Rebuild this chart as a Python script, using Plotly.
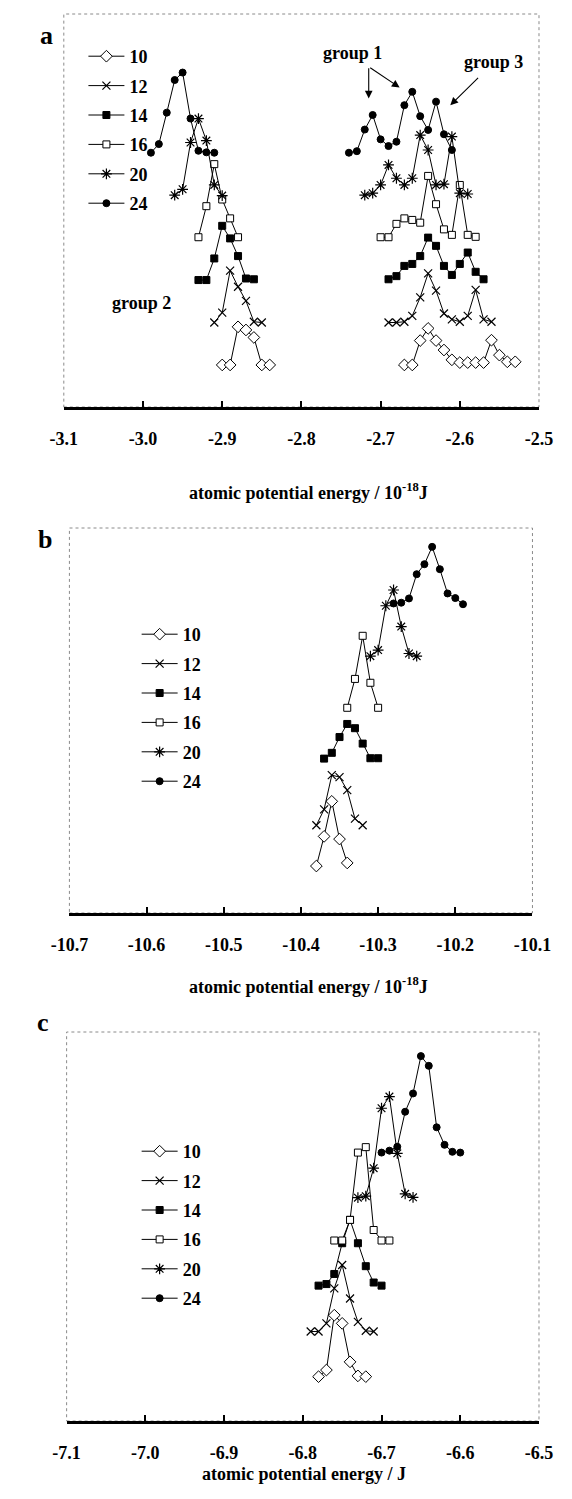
import plotly.graph_objects as go

W, H = 572, 1499
FONT = "Liberation Serif"

series_names = ["10", "12", "14", "16", "20", "24"]

# ---------------- panel a (x in 10^-18 J, y = offset counts, arbitrary) ----------------
a10_x = [-2.90, -2.89, -2.88, -2.87, -2.86, -2.85, -2.84, None,
         -2.67, -2.66, -2.65, -2.64, -2.63, -2.62, -2.61, -2.60, -2.59, -2.58, -2.57, -2.56, -2.55, -2.54, -2.53]
a10_y = [10.7, 10.7, 20.4, 19.6, 17.7, 10.7, 10.7, None,
         10.7, 10.7, 16.9, 20.0, 16.9, 14.5, 12.0, 11.3, 11.3, 11.3, 11.3, 17.0, 13.2, 11.5, 11.5]

a12_x = [-2.91, -2.90, -2.89, -2.88, -2.87, -2.86, -2.85, None,
         -2.69, -2.68, -2.67, -2.66, -2.65, -2.64, -2.63, -2.62, -2.61, -2.60, -2.59, -2.58, -2.57, -2.56]
a12_y = [21.5, 24.0, 34.7, 30.6, 27.0, 21.7, 21.5, None,
         21.5, 21.5, 21.7, 23.2, 27.9, 34.0, 29.6, 23.8, 22.3, 21.7, 23.2, 29.8, 22.3, 21.7]

a14_x = [-2.93, -2.92, -2.91, -2.90, -2.89, -2.88, -2.87, -2.86, None,
         -2.69, -2.68, -2.67, -2.66, -2.65, -2.64, -2.63, -2.62, -2.61, -2.60, -2.59, -2.58, -2.57]
a14_y = [32.3, 32.3, 37.8, 46.1, 42.9, 38.4, 32.7, 32.5, None,
         32.5, 33.3, 35.9, 36.4, 38.4, 43.1, 41.0, 35.9, 33.6, 36.4, 39.3, 34.4, 32.5]

a16_x = [-2.93, -2.92, -2.91, -2.90, -2.89, -2.88, None,
         -2.70, -2.69, -2.68, -2.67, -2.66, -2.65, -2.64, -2.63, -2.62, -2.61, -2.60, -2.59, -2.58]
a16_y = [43.2, 51.1, 61.8, 52.8, 48.0, 43.2, None,
         43.2, 43.2, 46.6, 48.0, 47.6, 46.9, 58.8, 51.6, 45.2, 43.8, 56.5, 43.8, 43.3]

a20_x = [-2.96, -2.95, -2.94, -2.93, -2.92, -2.91, -2.90, None,
         -2.72, -2.71, -2.70, -2.69, -2.68, -2.67, -2.66, -2.65, -2.64, -2.63, -2.62, -2.61, -2.60, -2.59]
a20_y = [53.9, 55.4, 67.3, 73.4, 67.8, 56.5, 53.8, None,
         53.9, 54.4, 56.5, 61.6, 58.2, 56.5, 58.2, 69.2, 65.4, 56.5, 56.7, 68.8, 54.4, 54.2]

a24_x = [-2.99, -2.98, -2.97, -2.96, -2.95, -2.94, -2.93, -2.92, -2.91, None,
         -2.74, -2.73, -2.72, -2.71, -2.70, -2.69, -2.68, -2.67, -2.66, -2.65, -2.64, -2.63, -2.62, -2.61]
a24_y = [64.7, 66.9, 74.9, 83.2, 85.1, 73.4, 65.2, 64.8, 64.7, None,
         64.7, 65.1, 70.6, 74.3, 68.1, 66.4, 67.5, 76.8, 80.2, 74.0, 70.5, 77.7, 69.4, 65.4]

# ---------------- panel b ----------------
b10_x = [-10.38, -10.37, -10.36, -10.35, -10.34]
b10_y = [12.2, 19.9, 29.0, 19.2, 13.0]
b12_x = [-10.38, -10.37, -10.36, -10.35, -10.34, -10.33, -10.32]
b12_y = [22.8, 26.9, 35.8, 35.3, 31.9, 24.5, 22.8]
b14_x = [-10.37, -10.36, -10.35, -10.34, -10.33, -10.32, -10.31, -10.30]
b14_y = [40.1, 41.6, 45.7, 49.1, 48.0, 44.0, 40.2, 40.2]
b16_x = [-10.34, -10.33, -10.32, -10.31, -10.30]
b16_y = [53.3, 60.8, 72.0, 59.8, 53.3]
b20_x = [-10.31, -10.30, -10.29, -10.28, -10.27, -10.26, -10.25]
b20_y = [66.7, 68.3, 79.8, 83.9, 74.4, 67.4, 66.7]
b24_x = [-10.28, -10.27, -10.26, -10.25, -10.24, -10.23, -10.22, -10.21, -10.20, -10.19]
b24_y = [80.4, 80.6, 81.7, 88.0, 90.6, 95.1, 89.3, 83.0, 81.8, 80.2]

# ---------------- panel c ----------------
c10_x = [-6.78, -6.77, -6.76, -6.75, -6.74, -6.73, -6.72]
c10_y = [11.4, 13.1, 27.2, 25.1, 15.2, 11.6, 11.4]
c12_x = [-6.79, -6.78, -6.77, -6.76, -6.75, -6.74, -6.73, -6.72, -6.71]
c12_y = [23.0, 23.0, 25.1, 34.1, 40.1, 31.5, 25.5, 23.2, 23.0]
c14_x = [-6.78, -6.77, -6.76, -6.75, -6.74, -6.73, -6.72, -6.71, -6.70]
c14_y = [34.8, 35.2, 37.8, 45.7, 51.7, 45.7, 39.8, 35.6, 34.8]
c16_x = [-6.76, -6.75, -6.74, -6.73, -6.72, -6.71, -6.70, -6.69]
c16_y = [46.4, 46.4, 51.7, 69.0, 70.4, 49.1, 46.4, 46.4]
c20_x = [-6.73, -6.72, -6.71, -6.70, -6.69, -6.68, -6.67, -6.66]
c20_y = [57.4, 57.8, 65.0, 80.4, 83.4, 68.8, 58.4, 57.5]
c24_x = [-6.70, -6.69, -6.68, -6.67, -6.66, -6.65, -6.64, -6.63, -6.62, -6.61, -6.60]
c24_y = [69.0, 69.5, 70.5, 79.5, 84.2, 93.8, 91.3, 75.5, 71.0, 69.2, 69.0]

# tick labels
a_ticks = [-3.1, -3.0, -2.9, -2.8, -2.7, -2.6, -2.5]
a_ticktext = ["-3.1", "-3.0", "-2.9", "-2.8", "-2.7", "-2.6", "-2.5"]
b_ticks = [-10.7, -10.6, -10.5, -10.4, -10.3, -10.2, -10.1]
b_ticktext = ["-10.7", "-10.6", "-10.5", "-10.4", "-10.3", "-10.2", "-10.1"]
c_ticks = [-7.1, -7.0, -6.9, -6.8, -6.7, -6.6, -6.5]
c_ticktext = ["-7.1", "-7.0", "-6.9", "-6.8", "-6.7", "-6.6", "-6.5"]

# ---------------- styling ----------------
marker_style = {
    "10": dict(symbol="diamond", color="white", size=9, line=dict(color="black", width=1)),
    "12": dict(symbol="x-thin", color="black", size=8, line=dict(color="black", width=1.2)),
    "14": dict(symbol="square", color="black", size=7, line=dict(color="black", width=1)),
    "16": dict(symbol="square", color="white", size=7, line=dict(color="black", width=1)),
    "20": dict(symbol="asterisk", color="black", size=9, line=dict(color="black", width=1.2)),
    "24": dict(symbol="circle", color="black", size=7, line=dict(color="black", width=1)),
}


def px_x(p):
    return p / W


def px_y(p):
    return 1 - p / H


panels = [
    dict(key="a", xa="x", ya="y", legend="legend",
         data={"10": (a10_x, a10_y), "12": (a12_x, a12_y), "14": (a14_x, a14_y),
               "16": (a16_x, a16_y), "20": (a20_x, a20_y), "24": (a24_x, a24_y)},
         xdom=(48, 557), ytop=14, ybot=407, rng=(-3.1, -2.5), tv=a_ticks, tt=a_ticktext),
    dict(key="b", xa="x2", ya="y2", legend="legend2",
         data={"10": (b10_x, b10_y), "12": (b12_x, b12_y), "14": (b14_x, b14_y),
               "16": (b16_x, b16_y), "20": (b20_x, b20_y), "24": (b24_x, b24_y)},
         xdom=(54, 550), ytop=528, ybot=913, rng=(-10.7, -10.1), tv=b_ticks, tt=b_ticktext),
    dict(key="c", xa="x3", ya="y3", legend="legend3",
         data={"10": (c10_x, c10_y), "12": (c12_x, c12_y), "14": (c14_x, c14_y),
               "16": (c16_x, c16_y), "20": (c20_x, c20_y), "24": (c24_x, c24_y)},
         xdom=(51, 557), ytop=1032, ybot=1421, rng=(-7.1, -6.5), tv=c_ticks, tt=c_ticktext),
]

fig = go.Figure()
layout_axes = {}
shapes = []

for i, p in enumerate(panels):
    for name in series_names:
        xs, ys = p["data"][name]
        fig.add_trace(go.Scatter(
            x=xs, y=ys, mode="lines+markers", name=name,
            xaxis=p["xa"], yaxis=p["ya"], legend=p["legend"],
            legendgroup=p["key"] + name, connectgaps=False,
            line=dict(color="black", width=1),
            marker=marker_style[name],
            showlegend=True,
        ))
    xkey = "xaxis" if i == 0 else f"xaxis{i+1}"
    ykey = "yaxis" if i == 0 else f"yaxis{i+1}"
    layout_axes[xkey] = dict(
        domain=[px_x(p["xdom"][0]), px_x(p["xdom"][1])],
        anchor=p["ya"], range=list(p["rng"]),
        tickmode="array", tickvals=p["tv"], ticktext=p["tt"],
        ticks="inside", ticklen=6, tickwidth=2, tickcolor="black",
        showline=True, linecolor="black", linewidth=2.5,
        showgrid=False, zeroline=False, fixedrange=True,
        tickfont=dict(family=FONT, size=18, color="black", weight="bold"),
        ticklabelstandoff=14,
    )
    layout_axes[ykey] = dict(
        domain=[px_y(p["ybot"]), px_y(p["ytop"])],
        anchor=p["xa"], range=[0, 100], visible=False, fixedrange=True,
    )
    shapes.append(dict(type="rect", xref=f"{p['xa']} domain", yref=f"{p['ya']} domain",
                       x0=0, x1=1, y0=0, y1=1, layer="below",
                       line=dict(color="#8a8a8a", width=1, dash="dot")))

tfont = dict(family=FONT, size=18, color="black", weight="bold")
arrow = dict(xref="x", yref="y", axref="x", ayref="y", showarrow=True, text="",
             arrowhead=2, arrowsize=1.4, arrowwidth=1.1, arrowcolor="black")
annotations = [
    dict(text="a", xref="paper", yref="paper", x=px_x(20), y=px_y(19), showarrow=False,
         font=dict(family=FONT, size=26, color="black", weight="bold")),
    dict(text="b", xref="paper", yref="paper", x=px_x(18), y=px_y(540), showarrow=False,
         font=dict(family=FONT, size=26, color="black", weight="bold")),
    dict(text="c", xref="paper", yref="paper", x=px_x(17), y=px_y(1039), showarrow=False,
         font=dict(family=FONT, size=26, color="black", weight="bold")),
    dict(text="atomic potential energy / 10<sup>-18</sup>J", xref="paper", yref="paper",
         x=px_x(310), y=px_y(478), showarrow=False, font=tfont),
    dict(text="atomic potential energy / 10<sup>-18</sup>J", xref="paper", yref="paper",
         x=px_x(310), y=px_y(985), showarrow=False, font=tfont),
    dict(text="atomic potential energy / J", xref="paper", yref="paper",
         x=px_x(305), y=px_y(1486), showarrow=False, font=tfont),
    # panel a group labels
    dict(text="group 2", xref="x", yref="y", x=-3.002, y=26.4, showarrow=False, font=tfont),
    dict(text="group 1", xref="x", yref="y", x=-2.736, y=90.2, showarrow=False, font=tfont),
    dict(text="group 3", xref="x", yref="y", x=-2.557, y=87.9, showarrow=False, font=tfont),
    dict(x=-2.715, y=78.5, ax=-2.715, ay=86.6, **arrow),
    dict(x=-2.676, y=81.3, ax=-2.715, ay=86.6, **arrow),
    dict(x=-2.612, y=76.8, ax=-2.575, ay=84.1, **arrow),
]

leg_common = dict(bgcolor="rgba(0,0,0,0)", borderwidth=0, tracegroupgap=3, itemwidth=36,
                  font=dict(family=FONT, size=18, color="black", weight="bold"),
                  xanchor="left", yanchor="top", itemclick=False, itemdoubleclick=False)

fig.update_layout(
    width=W, height=H, autosize=False,
    margin=dict(l=0, r=0, t=0, b=0),
    paper_bgcolor="white", plot_bgcolor="white",
    shapes=shapes, annotations=annotations,
    legend=dict(x=px_x(69), y=px_y(38), **leg_common),
    legend2=dict(x=px_x(126), y=px_y(616), **leg_common),
    legend3=dict(x=px_x(126), y=px_y(1133), **leg_common),
    **layout_axes,
)

fig.write_html("out.html")
